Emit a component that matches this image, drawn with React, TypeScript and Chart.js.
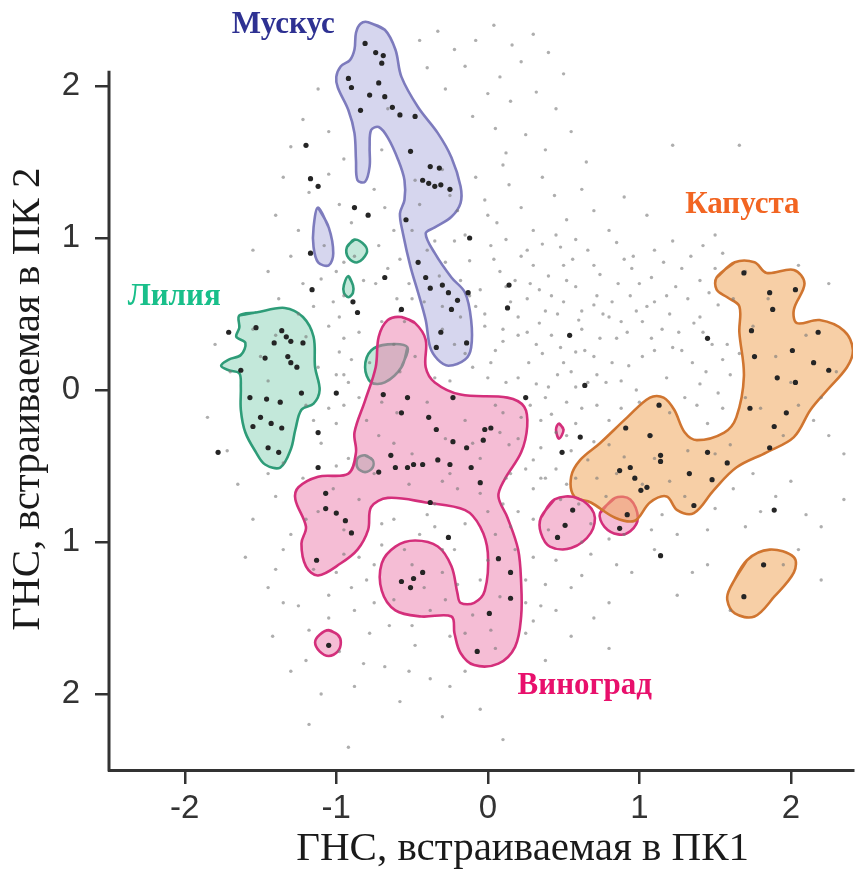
import React, { useEffect, useRef } from 'react';
import { Chart, registerables } from 'chart.js';

Chart.register(...registerables);

type P = [number, number];

// ---------- axis ticks ----------
const xTicks = [-2, -1, 0, 1, 2];
const yTicks = [-2, -1, 0, 1, 2];

// ---------- contours (data units: PC1, PC2) ----------
const muskMain: P[] = [
  [-0.79, 2.42], [-0.68, 2.37], [-0.61, 2.24], [-0.57, 2.06], [-0.46, 1.86], [-0.33, 1.69], [-0.24, 1.53],
  [-0.18, 1.34], [-0.18, 1.23], [-0.24, 1.14], [-0.35, 1.07], [-0.41, 1.03], [-0.35, 0.9], [-0.24, 0.74],
  [-0.15, 0.64], [-0.11, 0.46], [-0.11, 0.28], [-0.15, 0.2], [-0.26, 0.16], [-0.33, 0.2], [-0.38, 0.28],
  [-0.41, 0.46], [-0.46, 0.64], [-0.51, 0.81], [-0.56, 1.03], [-0.58, 1.16], [-0.55, 1.25], [-0.55, 1.38],
  [-0.59, 1.51], [-0.66, 1.66], [-0.72, 1.73], [-0.77, 1.71], [-0.78, 1.6], [-0.78, 1.47], [-0.81, 1.37],
  [-0.86, 1.38], [-0.87, 1.51], [-0.88, 1.69], [-0.92, 1.84], [-0.99, 1.99], [-1.0, 2.06], [-0.97, 2.13],
  [-0.91, 2.17], [-0.88, 2.24], [-0.87, 2.35], [-0.84, 2.41],
];
const muskSmall: P[] = [
  [-1.12, 1.2], [-1.05, 1.07], [-1.02, 0.9], [-1.05, 0.82], [-1.12, 0.84], [-1.15, 0.94], [-1.15, 1.07],
];
const lilyMain: P[] = [
  [-1.64, 0.49], [-1.53, 0.51], [-1.34, 0.54], [-1.22, 0.48], [-1.15, 0.35], [-1.14, 0.15], [-1.11, 0.0],
  [-1.15, -0.09], [-1.23, -0.13], [-1.27, -0.26], [-1.3, -0.39], [-1.37, -0.51], [-1.47, -0.49],
  [-1.53, -0.41], [-1.6, -0.28], [-1.63, -0.13], [-1.63, 0.02], [-1.64, 0.11], [-1.71, 0.13], [-1.76, 0.16],
  [-1.71, 0.2], [-1.63, 0.23], [-1.6, 0.31], [-1.66, 0.35], [-1.64, 0.41],
];
const lilyLeaf: P[] = [
  [-0.53, 0.28], [-0.57, 0.15], [-0.68, 0.05], [-0.77, 0.05], [-0.81, 0.15], [-0.77, 0.26], [-0.66, 0.3],
];
const lilyTop: P[] = [
  [-0.93, 0.94], [-0.88, 0.99], [-0.81, 0.95], [-0.8, 0.9], [-0.86, 0.84], [-0.92, 0.87],
];
const lilyMid: P[] = [
  [-0.92, 0.75], [-0.89, 0.69], [-0.89, 0.64], [-0.92, 0.61], [-0.95, 0.64], [-0.95, 0.69],
];
const lilyLow: P[] = [
  [-0.81, -0.43], [-0.76, -0.46], [-0.76, -0.51], [-0.81, -0.54], [-0.86, -0.51], [-0.86, -0.45],
];
const grapeMain: P[] = [
  [-0.57, 0.48], [-0.48, 0.44], [-0.41, 0.33], [-0.41, 0.15], [-0.35, 0.05], [-0.18, -0.03], [0.13, -0.05],
  [0.24, -0.11], [0.26, -0.24], [0.22, -0.41], [0.11, -0.59], [0.07, -0.7], [0.13, -0.84], [0.2, -1.05],
  [0.22, -1.27], [0.22, -1.49], [0.18, -1.69], [0.07, -1.8], [-0.09, -1.81], [-0.18, -1.73], [-0.22, -1.6],
  [-0.24, -1.49], [-0.44, -1.49], [-0.61, -1.45], [-0.7, -1.32], [-0.7, -1.14], [-0.61, -1.03],
  [-0.48, -0.99], [-0.33, -1.03], [-0.24, -1.16], [-0.2, -1.34], [-0.18, -1.4], [-0.09, -1.4],
  [-0.02, -1.32], [0.0, -1.07], [-0.05, -0.9], [-0.15, -0.79], [-0.41, -0.74], [-0.66, -0.71],
  [-0.77, -0.77], [-0.79, -0.92], [-0.86, -1.05], [-0.97, -1.14], [-1.12, -1.22], [-1.2, -1.16],
  [-1.23, -1.01], [-1.2, -0.9], [-1.27, -0.72], [-1.25, -0.64], [-1.12, -0.57], [-0.92, -0.55],
  [-0.87, -0.41], [-0.88, -0.28], [-0.81, -0.07], [-0.74, 0.15], [-0.72, 0.35], [-0.66, 0.46],
];
const grapeCircle: P[] = [
  [-1.05, -1.58], [-0.99, -1.61], [-0.97, -1.66], [-0.99, -1.72], [-1.05, -1.75], [-1.11, -1.72],
  [-1.14, -1.66], [-1.11, -1.61],
];
const grapeTiny: P[] = [[0.47, -0.22], [0.5, -0.26], [0.47, -0.32], [0.45, -0.26]];
const grapeLeftBlob: P[] = [
  [0.35, -0.84], [0.44, -0.72], [0.59, -0.71], [0.7, -0.81], [0.68, -0.94], [0.55, -1.04], [0.41, -1.03],
  [0.35, -0.94],
];
const grapeRightBlob: P[] = [
  [0.74, -0.81], [0.84, -0.71], [0.94, -0.72], [0.99, -0.84], [0.94, -0.93], [0.86, -0.95], [0.77, -0.9],
];
const cabbageMain: P[] = [
  [1.51, 0.74], [1.63, 0.84], [1.76, 0.84], [1.84, 0.77], [2.02, 0.79], [2.09, 0.7], [2.02, 0.53],
  [2.04, 0.44], [2.19, 0.46], [2.35, 0.39], [2.41, 0.26], [2.37, 0.15], [2.24, 0.0], [2.13, -0.13],
  [2.02, -0.31], [1.84, -0.41], [1.64, -0.51], [1.49, -0.66], [1.36, -0.81], [1.25, -0.79], [1.18, -0.7],
  [1.07, -0.74], [0.97, -0.86], [0.84, -0.84], [0.68, -0.74], [0.57, -0.7], [0.55, -0.57], [0.61, -0.46],
  [0.74, -0.35], [0.92, -0.18], [1.07, -0.05], [1.16, -0.05], [1.23, -0.13], [1.3, -0.28], [1.38, -0.33],
  [1.56, -0.28], [1.64, -0.18], [1.69, 0.09], [1.66, 0.38], [1.66, 0.55], [1.58, 0.61], [1.51, 0.66],
];
const cabbageSmall: P[] = [
  [1.6, -1.3], [1.71, -1.12], [1.86, -1.05], [2.02, -1.1], [2.02, -1.2], [1.89, -1.36], [1.76, -1.49],
  [1.63, -1.47], [1.58, -1.38],
];

// ---------- samples: all embedded points (light) ----------
const allPoints: P[] = [
  [-0.45, 2.3], [-0.33, 2.36], [-0.22, 2.24], [-0.08, 2.3], [0.04, 2.4], [0.16, 2.27], [0.3, 2.34], [-0.4, 2.12],
  [-0.15, 2.13], [0.08, 2.06], [0.22, 2.16], [0.4, 2.22], [0.5, 2.08], [-0.28, 1.98], [0.0, 1.95], [0.15, 1.9],
  [0.32, 1.96], [0.45, 1.85], [-1.12, 1.98], [-1.22, 1.78], [-1.05, 1.7], [-0.7, 1.58], [-0.66, 1.85],
  [-0.1, 1.8], [0.05, 1.72], [0.25, 1.68], [0.55, 1.7], [-1.3, 1.6], [-0.95, 1.52], [0.12, 1.56], [0.38, 1.58],
  [1.22, 1.61], [1.66, 1.61], [0.65, 1.5],
  [-1.35, 1.4], [-1.18, 1.3], [-1.05, 1.42], [-0.98, 1.22], [-0.9, 1.1], [-0.75, 1.32], [-0.68, 1.2],
  [-0.62, 1.05], [-0.48, 1.38], [-0.45, 1.22], [-0.3, 1.45], [-0.2, 1.18], [-0.08, 1.4], [-0.02, 1.25],
  [0.06, 1.1], [0.14, 1.35], [0.22, 1.2], [0.3, 1.05], [0.36, 1.4], [0.44, 1.28], [0.52, 1.12], [0.62, 1.32],
  [0.7, 1.18], [0.8, 1.05], [0.9, 1.27], [1.05, 1.15], [1.3, 1.1], [1.5, 1.02], [-1.4, 1.15], [-1.25, 1.05],
  [0.1, 1.48], [-0.15, 1.02],
  [-1.55, 0.92], [-1.45, 0.78], [-1.38, 0.6], [-1.3, 0.88], [-1.22, 0.7], [-1.15, 0.55], [-1.08, 0.95],
  [-1.0, 0.78], [-0.95, 0.62], [-0.88, 0.88], [-0.82, 0.72], [-0.72, 0.95], [-0.66, 0.8], [-0.6, 0.6],
  [-0.52, 0.7], [-0.4, 0.92], [-0.32, 0.75], [-0.22, 0.98], [-0.12, 0.85], [-0.05, 0.66], [0.02, 0.95],
  [0.08, 0.78], [0.15, 0.58], [0.22, 0.88], [0.28, 0.7], [0.36, 0.96], [0.42, 0.62], [0.5, 0.82], [0.58, 0.68],
  [0.66, 0.92], [0.74, 0.76], [0.82, 0.58], [0.9, 0.86], [1.0, 0.7], [1.1, 0.92], [1.18, 0.62], [1.28, 0.8],
  [1.4, 0.72], [1.55, 0.9], [1.62, 0.6], [1.7, 0.78], [2.05, 0.82], [2.25, 0.7], [-0.3, 0.55], [0.62, 0.52],
  [-1.8, 0.3], [-1.7, 0.12], [-1.55, 0.4], [-1.2, 0.35], [-1.12, 0.15], [-1.05, 0.42], [-0.98, 0.25],
  [-0.92, 0.05], [-0.85, 0.38], [-0.78, 0.18], [-0.55, 0.45], [-0.48, 0.22], [-0.35, 0.08], [-0.22, 0.3],
  [-0.1, 0.15], [-0.02, 0.42], [0.05, 0.26], [0.12, 0.05], [0.2, 0.36], [0.27, 0.18], [0.34, 0.44], [0.4, 0.02],
  [0.48, 0.28], [0.55, 0.12], [0.62, 0.4], [0.7, 0.22], [0.78, 0.05], [0.85, 0.34], [0.93, 0.16], [1.02, 0.45],
  [1.1, 0.26], [1.18, 0.08], [1.26, 0.38], [1.35, 0.18], [1.48, 0.3], [1.6, 0.1], [1.75, 0.42], [1.9, 0.22],
  [2.1, 0.36], [2.3, 0.12], [-0.62, 0.3], [0.98, 0.0],
  [-1.85, -0.18], [-1.72, -0.4], [-1.2, -0.1], [-1.1, -0.35], [-1.0, -0.22], [-0.92, -0.45], [-0.85, -0.05],
  [-0.72, -0.3], [-0.6, -0.15], [-0.5, -0.42], [-0.4, -0.08], [-0.28, -0.32], [-0.15, -0.2], [-0.05, -0.45],
  [0.05, -0.1], [0.14, -0.36], [0.22, -0.18], [0.3, -0.46], [0.38, -0.05], [0.45, -0.28], [0.55, -0.4],
  [0.62, -0.12], [0.7, -0.34], [0.8, -0.2], [0.9, -0.44], [1.0, -0.08], [1.08, -0.3], [1.2, -0.15],
  [1.32, -0.4], [1.45, -0.22], [1.6, -0.36], [1.8, -0.12], [1.95, -0.3], [2.15, -0.2], [2.35, -0.42],
  [-1.35, -0.48],
  [-1.65, -0.62], [-1.55, -0.85], [-1.4, -0.7], [-1.3, -0.95], [-1.22, -0.58], [-1.12, -0.8], [-1.02, -0.65],
  [-0.95, -0.92], [-0.85, -0.72], [-0.75, -0.55], [-0.62, -0.85], [-0.52, -0.62], [-0.45, -0.95],
  [-0.35, -0.75], [-0.25, -0.55], [-0.15, -0.88], [-0.05, -0.68], [0.05, -0.95], [0.12, -0.58], [0.2, -0.8],
  [0.3, -0.65], [0.4, -0.92], [0.48, -0.72], [0.58, -0.58], [0.68, -0.88], [0.78, -0.7], [0.9, -0.95],
  [1.02, -0.62], [1.15, -0.82], [1.3, -0.7], [1.45, -0.92], [1.62, -0.65], [1.8, -0.8], [2.0, -0.6],
  [2.2, -0.9], [2.35, -0.72],
  [-1.6, -1.1], [-1.45, -1.3], [-1.35, -1.05], [-1.25, -1.42], [-1.15, -1.18], [-1.05, -1.35], [-0.95, -1.08],
  [-0.88, -1.45], [-0.8, -1.25], [-0.7, -1.02], [-0.62, -1.38], [-0.5, -1.15], [-0.38, -1.45], [-0.3, -1.05],
  [-0.2, -1.28], [-0.1, -1.48], [0.0, -1.12], [0.08, -1.36], [0.18, -1.05], [0.25, -1.25], [0.35, -1.42],
  [0.45, -1.12], [0.55, -1.3], [0.68, -1.08], [0.8, -1.4], [0.95, -1.2], [1.1, -1.05], [1.25, -1.35],
  [1.45, -1.15], [2.05, -1.05], [2.2, -1.25], [1.6, -1.45],
  [-1.42, -1.62], [-1.3, -1.85], [-1.18, -1.58], [-1.1, -2.0], [-0.98, -1.72], [-0.88, -1.95], [-0.78, -1.6],
  [-0.68, -1.82], [-0.58, -2.05], [-0.48, -1.68], [-0.38, -1.9], [-0.25, -1.62], [-0.15, -1.85], [-0.05, -2.1],
  [0.05, -1.7], [0.15, -1.95], [0.25, -1.6], [0.38, -1.78], [0.55, -1.62], [0.8, -1.7], [-1.18, -2.2],
  [-0.92, -2.35], [-0.3, -2.15], [0.1, -2.3],
  [-0.7, 0.45], [-0.58, 0.12], [-0.42, 0.58], [-0.18, 0.48], [0.0, 0.08], [0.18, 0.72], [0.32, 0.3],
  [0.46, 0.5], [0.58, 0.25], [0.72, 0.62], [0.88, 0.45], [1.05, 0.55], [1.15, 0.4], [0.95, 0.8], [0.26, 0.92],
  [-0.08, 0.55], [0.1, 0.4], [0.4, 0.75], [0.66, 0.05], [0.76, 0.5], [0.52, -0.08], [0.35, -0.2], [0.15, -0.55],
  [-0.1, -0.35], [-0.3, -0.6], [-0.55, -1.05], [-0.75, -1.15], [-0.42, -1.3], [-0.22, -1.05], [0.1, -0.75],
  [0.25, -1.4], [-0.15, -1.6], [-0.65, -1.55], [-0.9, -1.3], [-1.0, -0.5], [-0.8, -0.2], [0.6, -0.75],
  [0.85, -0.55], [1.1, -0.45], [1.3, -0.05], [1.4, 0.48], [1.55, 0.2], [1.7, -0.05], [1.85, 0.6], [2.0, 0.05],
  [2.2, -0.05], [-0.5, 1.05], [-0.25, 1.28], [0.0, 1.15], [0.45, 1.02], [-1.0, 0.1], [-0.95, -0.1],
  [-1.25, 0.5], [-0.35, -0.9], [0.0, -0.8], [0.38, -0.58], [1.75, -0.55], [1.95, -1.15],
  [-0.35, 0.98], [0.12, 0.99], [0.48, 0.94], [0.58, 0.99], [0.85, 0.97], [1.22, 0.98], [1.42, 0.95],
  [-0.95, 0.84], [-0.58, 0.86], [-0.28, 0.84], [0.04, 0.86], [0.3, 0.82], [0.56, 0.86], [0.7, 0.82],
  [0.96, 0.88], [1.16, 0.84], [1.34, 0.88], [1.5, 0.8],
  [-1.1, 0.73], [-0.74, 0.7], [-0.18, 0.72], [0.12, 0.68], [0.34, 0.66], [0.52, 0.72], [0.86, 0.7],
  [1.08, 0.74], [1.24, 0.68], [1.46, 0.64],
  [-1.02, 0.58], [-0.5, 0.6], [-0.12, 0.62], [0.26, 0.6], [0.5, 0.58], [0.7, 0.56], [0.94, 0.62], [1.1, 0.58],
  [1.32, 0.6], [1.52, 0.56],
  [-0.98, 0.48], [-0.58, 0.52], [-0.02, 0.5], [0.2, 0.48], [0.38, 0.52], [0.6, 0.46], [0.8, 0.48], [0.98, 0.52],
  [1.2, 0.5], [1.36, 0.44],
  [-1.4, 0.36], [-0.95, 0.34], [-0.3, 0.4], [0.1, 0.32], [0.26, 0.38], [0.42, 0.36], [0.74, 0.34], [0.92, 0.38],
  [1.08, 0.34], [1.22, 0.28], [1.42, 0.38], [1.58, 0.3],
  [-1.5, 0.22], [-0.9, 0.2], [-0.15, 0.24], [0.02, 0.18], [0.36, 0.24], [0.5, 0.18], [0.64, 0.26], [0.82, 0.18],
  [1.02, 0.22], [1.28, 0.26], [1.44, 0.12], [1.66, 0.24],
  [-1.45, 0.06], [-0.95, 0.1], [-0.25, 0.06], [0.2, 0.08], [0.32, 0.04], [0.46, 0.1], [0.58, 0.02], [0.72, 0.1],
  [0.88, 0.06], [1.4, 0.04], [1.52, -0.02],
  [-1.05, -0.12], [-0.7, -0.08], [0.1, -0.15], [0.28, -0.1], [0.42, -0.16], [0.58, -0.22], [0.72, -0.1],
  [0.88, -0.12], [1.38, -0.1], [1.55, -0.12], [2.05, -0.1],
  [-1.15, -0.2], [-0.62, -0.35], [0.08, -0.28], [0.2, -0.32], [0.35, -0.38], [0.52, -0.3], [0.66, -0.46],
  [0.8, -0.36], [1.5, -0.42], [2.25, -0.3],
  [-1.45, -0.55], [-0.2, -0.65], [0.25, -0.52], [0.35, -0.58], [0.45, -0.52], [0.52, -0.62], [0.72, -0.58],
  [1.2, -0.6], [1.5, -0.78], [1.9, -0.7],
  [-1.2, -0.85], [-0.7, -0.88], [-0.4, -0.82], [0.15, -0.9], [0.3, -0.85], [0.62, -1.0], [0.8, -0.98],
  [1.08, -0.92], [1.25, -0.95], [1.7, -0.9], [2.1, -0.82],
  [-1.4, -1.18], [-1.0, -1.2], [-0.85, -1.1], [-0.3, -1.2], [-0.05, -1.25], [0.3, -1.1], [0.38, -1.28],
  [0.62, -1.22], [0.85, -1.15], [1.35, -1.2],
  [-1.35, -1.4], [-1.05, -1.5], [-0.75, -1.4], [-0.5, -1.55], [-0.28, -1.38], [0.02, -1.58], [0.3, -1.52],
  [0.45, -1.45], [0.7, -1.5],
  [-1.2, -1.78], [-0.82, -1.8], [-0.52, -1.85], [-0.25, -1.95], [0.3, -1.9], [0.45, -2.02],
];

// ---------- highlighted samples (dark) ----------
const keyPoints: P[] = [
  [-0.81, 2.28], [-0.74, 2.22], [-0.69, 2.2], [-0.7, 2.15], [-0.92, 2.05], [-0.9, 1.99], [-0.78, 1.94],
  [-0.72, 2.02], [-0.68, 1.93], [-0.84, 1.84], [-0.63, 1.86], [-0.58, 1.81], [-0.48, 1.8], [-0.51, 1.57],
  [-0.38, 1.47], [-0.32, 1.46], [-0.43, 1.38], [-0.39, 1.36], [-0.35, 1.34], [-0.31, 1.35], [-0.25, 1.32],
  [-0.54, 1.12], [-0.46, 0.84], [-0.41, 0.74], [-0.38, 0.67], [-0.3, 0.69], [-0.26, 0.64], [-0.2, 0.59],
  [-0.24, 0.53], [-0.13, 0.64], [-0.31, 0.38], [-0.34, 0.28], [-0.14, 0.31],
  [-1.2, 1.61], [-1.17, 1.39], [-1.12, 1.34], [-0.88, 1.2], [-0.79, 1.15], [-1.17, 0.9], [-0.68, 0.74],
  [-1.16, 0.66], [-0.89, 0.58], [-0.86, 0.51], [-0.12, 1.0], [-0.57, 0.53], [0.14, 0.69], [0.13, 0.54],
  [0.54, 0.36], [0.64, 0.03], [1.45, 0.34], [-1.71, 0.38], [-1.78, -0.41], [-1.12, -0.28], [-1.12, -0.51],
  [-1.0, -0.02], [0.25, -0.05],
  [-1.53, 0.41], [-1.36, 0.39], [-1.33, 0.35], [-1.3, 0.32], [-1.41, 0.31], [-1.22, 0.31], [-1.47, 0.21],
  [-1.32, 0.22], [-1.3, 0.18], [-1.26, 0.15], [-1.63, 0.13], [-1.57, -0.05], [-1.46, -0.06], [-1.37, -0.08],
  [-1.23, -0.02], [-1.5, -0.18], [-1.55, -0.24], [-1.43, -0.22], [-1.36, -0.25], [-1.45, -0.38],
  [-1.38, -0.41],
  [-0.69, -0.03], [-0.53, -0.05], [-0.23, -0.05], [-0.57, -0.15], [-0.39, -0.18], [-0.34, -0.26],
  [-0.02, -0.26], [0.02, -0.25], [-0.03, -0.33], [-0.23, -0.34], [-0.14, -0.38], [-0.64, -0.43],
  [-0.53, -0.51], [-0.49, -0.49], [-0.43, -0.49], [-0.33, -0.46], [-0.25, -0.49], [-0.11, -0.51],
  [-0.61, -0.51], [-0.72, -0.54], [-0.05, -0.61], [-0.38, -0.74], [-1.07, -0.68], [-1.07, -0.78],
  [-1.0, -0.81], [-0.94, -0.86], [-0.9, -0.94], [-1.13, -1.12], [-0.26, -0.97], [0.07, -1.11], [0.15, -1.2],
  [0.15, -1.37], [0.01, -1.47], [-0.07, -1.72], [-0.57, -1.26], [-0.51, -1.3], [-0.49, -1.24], [-0.43, -1.2],
  [-1.05, -1.68], [0.49, -0.41], [0.56, -0.79], [0.51, -0.89], [0.46, -0.97], [0.92, -0.82], [0.87, -0.91],
  [1.69, 0.77], [1.86, 0.64], [2.03, 0.66], [1.88, 0.53], [1.74, 0.39], [1.76, 0.22], [2.01, 0.26],
  [2.18, 0.38], [2.15, 0.18], [2.25, 0.13], [1.91, 0.08], [2.03, 0.05], [1.73, -0.12], [1.97, -0.15],
  [1.89, -0.24], [1.86, -0.38], [1.13, -0.1], [1.07, -0.3], [1.14, -0.43], [1.14, -0.47], [0.91, -0.25],
  [0.87, -0.53], [0.94, -0.51], [0.97, -0.58], [1.01, -0.66], [1.05, -0.64], [1.33, -0.55], [1.48, -0.59],
  [1.45, -0.41], [1.58, -0.48], [1.36, -0.76], [0.61, -0.31], [1.89, -0.79], [1.14, -1.09], [1.82, -1.15],
  [1.69, -1.36],
];

// ---------- group labels ----------
const groupNames = ['Мускус', 'Лилия', 'Виноград', 'Капуста'];
const groupLabelX = [-1.35, -2.07, 0.64, 1.68];
const groupLabelY = [2.4, 0.61, -1.95, 1.22];

const xTitle = 'ГНС, встраиваемая в ПК1';
const yTitle = 'ГНС, встраиваемая в ПК 2';

// ---------- styles ----------
const AXIS = '#333333';
const styles = {
  musk: { stroke: '#7d7bbd', fill: 'rgba(170,170,220,0.48)' },
  lily: { stroke: '#2e9c78', fill: 'rgba(135,209,181,0.5)' },
  grape: { stroke: '#d42f7b', fill: 'rgba(235,123,171,0.5)' },
  cabbage: { stroke: '#d07530', fill: 'rgba(241,167,93,0.55)' },
};
const labelColors = ['#2e3192', '#19bf8a', '#e8106c', '#f26522'];
const labelBoxed = [false, false, true, true];

function closed(pts: P[]) {
  const all = [...pts, pts[0], pts[1]];
  return all.map(([x, y]) => ({ x, y }));
}

function contour(pts: P[], st: { stroke: string; fill: string }) {
  return {
    data: closed(pts),
    showLine: true,
    fill: 'shape',
    tension: 0.35,
    borderColor: st.stroke,
    backgroundColor: st.fill,
    borderWidth: 2.6,
    pointRadius: 0,
    pointHoverRadius: 0,
    order: 5,
  };
}

const overlay = {
  id: 'overlay',
  afterDraw(chart: any) {
    const { ctx, chartArea, scales } = chart;
    const xs = scales.x;
    const ys = scales.y;
    ctx.save();
    // left axis line (shorter than plot)
    ctx.strokeStyle = AXIS;
    ctx.lineWidth = 3;
    ctx.beginPath();
    ctx.moveTo(chartArea.left, ys.getPixelForValue(2.1));
    ctx.lineTo(chartArea.left, chartArea.bottom + 1.5);
    ctx.stroke();

    // group labels
    ctx.font = 'bold 31px "Liberation Serif", "Times New Roman", serif';
    ctx.textAlign = 'center';
    ctx.textBaseline = 'middle';
    groupNames.forEach((name, i) => {
      const px = xs.getPixelForValue(groupLabelX[i]);
      const py = ys.getPixelForValue(groupLabelY[i]);
      if (labelBoxed[i]) {
        const w = ctx.measureText(name).width;
        ctx.fillStyle = '#ffffff';
        ctx.fillRect(px - w / 2 - 16, py - 22, w + 32, 44);
      }
      ctx.fillStyle = labelColors[i];
      ctx.fillText(name, px, py);
    });

    // axis titles
    ctx.fillStyle = '#1a1a1a';
    ctx.font = '41px "Liberation Serif", "Times New Roman", serif';
    ctx.textAlign = 'center';
    ctx.textBaseline = 'middle';
    ctx.fillText(xTitle, xs.getPixelForValue(0.23), 849);
    ctx.translate(28, ys.getPixelForValue(-0.06));
    ctx.rotate(-Math.PI / 2);
    ctx.fillText(yTitle, 0, 0);
    ctx.restore();
  },
};

export default function App() {
  const ref = useRef<HTMLCanvasElement | null>(null);

  useEffect(() => {
    document.body.style.margin = '0';
    const canvas = ref.current;
    if (!canvas) return;
    const tickFont = { family: '"Liberation Sans", Arial, sans-serif', size: 33 };
    const chart = new Chart(canvas, {
      type: 'scatter',
      data: {
        datasets: [
          { data: allPoints.map(([x, y]) => ({ x, y })), pointRadius: 1.7, pointBackgroundColor: 'rgba(120,120,120,0.6)', pointBorderWidth: 0, order: 2 },
          { data: keyPoints.map(([x, y]) => ({ x, y })), pointRadius: 2.6, pointBackgroundColor: '#252525', pointBorderWidth: 0, order: 1 },
          contour(grapeMain, styles.grape),
          contour(grapeCircle, styles.grape),
          contour(grapeTiny, styles.grape),
          contour(grapeLeftBlob, styles.grape),
          contour(muskMain, styles.musk),
          contour(muskSmall, styles.musk),
          contour(lilyMain, styles.lily),
          contour(lilyLeaf, styles.lily),
          contour(lilyTop, styles.lily),
          contour(lilyMid, styles.lily),
          contour(lilyLow, styles.lily),
          contour(cabbageMain, styles.cabbage),
          contour(cabbageSmall, styles.cabbage),
          contour(grapeRightBlob, styles.grape),
        ] as any,
      },
      options: {
        animation: false,
        responsive: false,
        devicePixelRatio: 1,
        layout: { padding: { top: 10, right: 0, bottom: 0, left: 0 } },
        plugins: { legend: { display: false }, tooltip: { enabled: false } },
        events: [],
        scales: {
          x: {
            type: 'linear',
            min: -2.5,
            max: 2.41,
            afterBuildTicks: (s: any) => { s.ticks = xTicks.map((v) => ({ value: v })); },
            afterFit: (s: any) => { s.height = 106; s.paddingLeft = 0; s.paddingRight = 0; },
            grid: { drawOnChartArea: false, drawTicks: true, tickLength: 14, color: AXIS, lineWidth: 2.5 },
            border: { display: true, color: AXIS, width: 3 },
            ticks: { font: tickFont, color: AXIS, padding: 5, maxRotation: 0, autoSkip: false },
          },
          y: {
            type: 'linear',
            min: -2.5,
            max: 2.5,
            afterBuildTicks: (s: any) => { s.ticks = yTicks.map((v) => ({ value: v })); },
            afterFit: (s: any) => { s.width = 109; s.paddingTop = 0; s.paddingBottom = 0; },
            grid: { drawOnChartArea: false, drawTicks: true, tickLength: 14, color: AXIS, lineWidth: 2.5 },
            border: { display: false },
            ticks: {
              font: tickFont, color: AXIS, padding: 15, autoSkip: false,
              callback: (v: any) => String(Math.abs(Number(v))),
            },
          },
        },
      } as any,
      plugins: [overlay],
    });
    return () => chart.destroy();
  }, []);

  return (
    <div style={{ width: 857, height: 876, background: '#fff' }}>
      <canvas ref={ref} width={857} height={876} style={{ display: 'block' }} />
    </div>
  );
}
